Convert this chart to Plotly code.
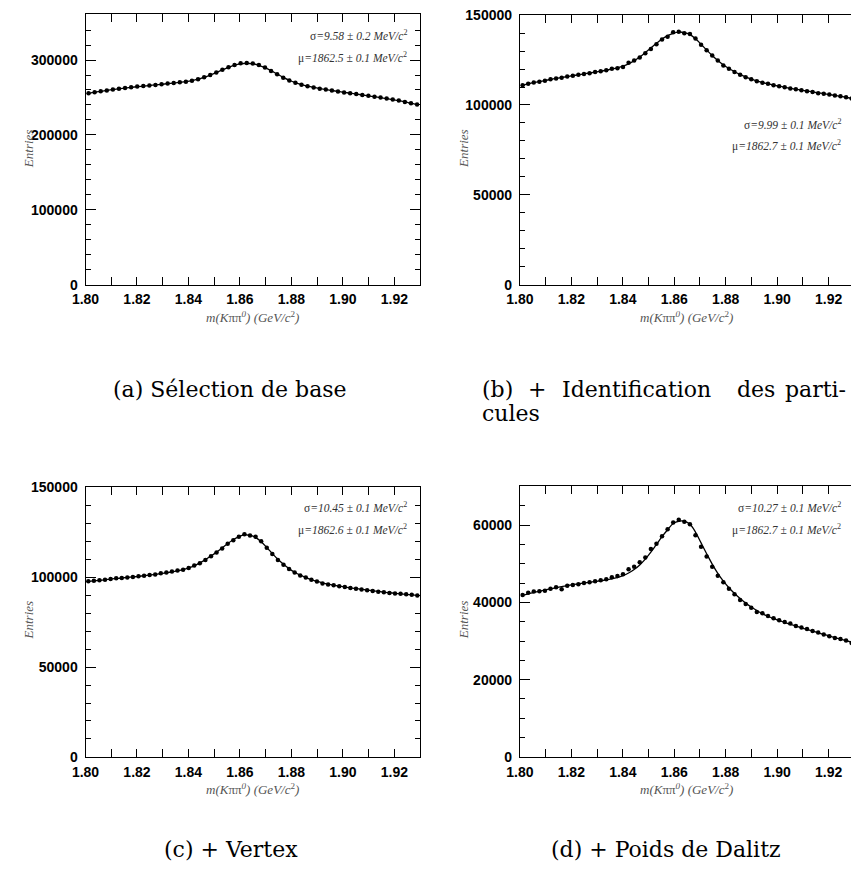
import numpy as np
import plotly.graph_objects as go

W, H = 851, 884

# ---------------- data (entries in thousands) ----------------
MASS_LO, MASS_HI = 1.80, 1.93
NBINS_A = 55
NBINS_BCD = 60

entries_a = [255.5, 257.0, 258.2, 259.3, 260.5, 261.8, 262.6, 263.5, 264.5, 265.3,
             266.0, 266.8, 267.6, 268.5, 269.3, 270.2, 271.0, 272.3, 274.5, 277.0,
             280.0, 283.5, 287.0, 290.5, 293.5, 295.8, 296.2, 295.5, 293.5, 290.0,
             285.5, 281.0, 276.5, 272.5, 269.5, 267.0, 265.0, 263.3, 261.8, 260.5,
             259.2, 258.0, 256.8, 255.6, 254.5, 253.3, 252.2, 251.0, 249.8, 248.5,
             247.2, 245.8, 244.0, 242.2, 240.5]
fit_a = [255.6, 257.0, 258.2, 259.4, 260.5, 261.6, 262.6, 263.5, 264.4, 265.2,
         266.0, 266.8, 267.6, 268.4, 269.3, 270.2, 271.2, 272.5, 274.4, 276.9,
         279.9, 283.3, 286.9, 290.2, 293.1, 295.0, 295.7, 295.0, 293.0, 289.8,
         285.8, 281.3, 276.9, 273.0, 269.8, 267.2, 265.1, 263.4, 261.9, 260.6,
         259.3, 258.1, 256.9, 255.7, 254.5, 253.4, 252.2, 251.0, 249.8, 248.5,
         247.2, 245.7, 244.1, 242.3, 240.5]

entries_b = [111.0, 111.8, 112.5, 113.0, 113.5, 114.3, 114.8, 115.2, 115.9, 116.3,
             116.8, 117.2, 117.6, 118.3, 118.8, 119.3, 120.2, 120.4, 121.2, 123.5,
             124.8, 126.5, 128.8, 131.2, 133.8, 136.5, 138.0, 140.5, 140.8, 140.0,
             139.5, 137.0, 133.5, 130.5, 127.5, 124.8, 122.0, 120.2, 118.3, 116.8,
             115.5, 114.3, 113.2, 112.4, 111.8, 111.0, 110.4, 109.9, 109.2, 108.7,
             108.2, 107.6, 107.2, 106.6, 106.2, 105.8, 105.3, 104.8, 104.3, 103.6]
fit_b = [110.9, 111.7, 112.4, 113.0, 113.6, 114.2, 114.8, 115.3, 115.8, 116.3,
         116.8, 117.3, 117.8, 118.3, 118.8, 119.4, 120.0, 120.7, 121.6, 122.9,
         124.6, 126.7, 129.1, 131.7, 134.3, 136.7, 138.6, 139.9, 140.6, 140.3,
         139.2, 136.9, 133.8, 130.6, 127.5, 124.7, 122.3, 120.3, 118.5, 117.0,
         115.6, 114.4, 113.4, 112.5, 111.8, 111.1, 110.5, 109.9, 109.3, 108.8,
         108.3, 107.8, 107.3, 106.8, 106.3, 105.8, 105.3, 104.8, 104.3, 103.7]

entries_c = [97.8, 98.0, 98.3, 98.6, 99.0, 99.4, 99.6, 99.9, 100.2, 100.6,
             100.9, 101.3, 101.6, 102.2, 102.6, 103.2, 103.8, 104.2, 105.2, 106.5,
             107.8, 109.6, 111.7, 113.8, 116.0, 118.6, 120.6, 122.5, 124.0, 123.3,
             122.5, 120.0, 116.5, 113.0, 109.6, 107.0, 104.6, 102.6, 101.0, 99.9,
             98.6, 97.6, 96.6, 96.0, 95.5, 95.0, 94.6, 94.0, 93.6, 93.2,
             92.8, 92.4, 92.0, 91.6, 91.3, 91.0, 90.8, 90.5, 90.2, 89.8]
fit_c = [97.7, 98.0, 98.3, 98.6, 99.0, 99.3, 99.6, 99.9, 100.2, 100.5,
         100.9, 101.2, 101.6, 102.0, 102.5, 103.0, 103.6, 104.3, 105.3, 106.4,
         108.0, 109.8, 111.8, 114.0, 116.4, 118.8, 120.9, 122.6, 123.6, 123.4,
         122.2, 119.8, 116.6, 113.2, 110.0, 107.2, 104.8, 102.8, 101.2, 99.9,
         98.7, 97.7, 96.9, 96.2, 95.6, 95.1, 94.6, 94.1, 93.7, 93.3,
         92.9, 92.5, 92.1, 91.7, 91.4, 91.1, 90.8, 90.5, 90.2, 89.9]

entries_d = [41.9, 42.5, 42.8, 42.9, 43.0, 43.5, 43.9, 43.4, 44.3, 44.5,
             44.7, 45.0, 45.2, 45.5, 45.7, 46.0, 46.5, 46.8, 47.3, 48.6,
             49.2, 50.4, 51.6, 53.8, 55.2, 57.1, 58.9, 60.7, 61.4, 60.9,
             60.2, 57.4, 54.4, 51.9, 49.2, 46.9, 45.2, 43.5, 42.1, 40.6,
             39.6, 38.6, 37.5, 37.2, 36.5, 35.9, 35.4, 34.9, 34.5, 33.9,
             33.5, 33.1, 32.6, 32.2, 31.7, 31.2, 30.8, 30.5, 30.1, 29.5]
fit_d = [41.8, 42.2, 42.6, 42.9, 43.2, 43.5, 43.8, 44.1, 44.3, 44.6,
         44.8, 45.0, 45.2, 45.4, 45.6, 45.8, 46.1, 46.4, 46.9, 47.6,
         48.5, 49.7, 51.2, 53.0, 55.0, 57.0, 58.8, 60.4, 61.0, 61.0,
         60.2, 58.2, 55.4, 52.6, 49.9, 47.5, 45.5, 43.8, 42.3, 41.0,
         39.8, 38.8, 37.9, 37.1, 36.4, 35.8, 35.3, 34.8, 34.3, 33.9,
         33.4, 33.0, 32.6, 32.1, 31.7, 31.3, 30.9, 30.5, 30.1, 29.7]

sigma_text = ["9.58 ± 0.2", "9.99 ± 0.1", "10.45 ± 0.1", "10.27 ± 0.1"]
mu_text = ["1862.5 ± 0.1", "1862.7 ± 0.1", "1862.6 ± 0.1", "1862.7 ± 0.1"]
y_max = [361000, 150000, 150000, 70000]
y_dtick = [100000, 50000, 50000, 20000]
y_minor = [20000, 10000, 10000, 5000]
x_ticks = [1.80, 1.82, 1.84, 1.86, 1.88, 1.90, 1.92]


def centers(n):
    w = (MASS_HI - MASS_LO) / n
    return MASS_LO + w * (np.arange(n) + 0.5)


def px_x(p):
    return p / W


def px_y(p):
    return 1 - p / H


panels = [
    dict(l=72.7, r=412.9, t=6.5, b=281.7, xhi=1.93, mirror_y=True),
    dict(l=514.3, r=851, t=7.3, b=281.7, xhi=1.80 + (851 - 514.3) / 2616.7, mirror_y=False),
    dict(l=72.7, r=412.9, t=488.3, b=762.7, xhi=1.93, mirror_y=True),
    dict(l=514.3, r=851, t=487.3, b=762.7, xhi=1.80 + (851 - 514.3) / 2616.7, mirror_y=False),
]

series = [(entries_a, fit_a, NBINS_A), (entries_b, fit_b, NBINS_BCD),
          (entries_c, fit_c, NBINS_BCD), (entries_d, fit_d, NBINS_BCD)]

fig = go.Figure()
layout = {}
annotations = []
tickfont = dict(family="Liberation Sans, Arial, sans-serif", size=14, color="black", weight="bold")
serif_it = "Liberation Serif, Times New Roman, serif"

for k, (p, (ent, fit, nb)) in enumerate(zip(panels, series)):
    i = k + 1
    xa = "x" if i == 1 else f"x{i}"
    ya = "y" if i == 1 else f"y{i}"
    xc = centers(nb)
    fig.add_trace(go.Scatter(x=xc, y=np.array(fit) * 1000, mode="lines",
                             line=dict(color="black", width=1.3, shape="spline"),
                             xaxis=xa, yaxis=ya, showlegend=False, hoverinfo="skip"))
    fig.add_trace(go.Scatter(x=xc, y=np.array(ent) * 1000, mode="markers",
                             marker=dict(color="black", size=4.5, symbol="circle"),
                             xaxis=xa, yaxis=ya, showlegend=False))
    xkey = "xaxis" if i == 1 else f"xaxis{i}"
    ykey = "yaxis" if i == 1 else f"yaxis{i}"
    layout[xkey] = dict(
        domain=[px_x(p["l"]), px_x(p["r"])], range=[1.80, p["xhi"]], anchor=ya,
        tickvals=x_ticks, tickformat=".2f", ticks="inside", ticklen=8, tickwidth=1,
        tickcolor="black", showline=True, linecolor="black", linewidth=1,
        mirror="allticks", showgrid=False, zeroline=False, tickfont=tickfont,
        ticklabelstandoff=2,
        minor=dict(dtick=0.01, tick0=1.80, ticks="inside", ticklen=8, tickcolor="black",
                   tickwidth=1, showgrid=False),
    )
    layout[ykey] = dict(
        domain=[px_y(p["b"]), px_y(p["t"])], range=[0, y_max[k]], anchor=xa,
        dtick=y_dtick[k], tick0=0, tickformat="d", ticks="inside", ticklen=10, tickwidth=1,
        tickcolor="black", showline=True, linecolor="black", linewidth=1,
        mirror="allticks" if p["mirror_y"] else False, showgrid=False, zeroline=False,
        tickfont=tickfont, ticklabelstandoff=4,
        minor=dict(dtick=y_minor[k], tick0=0, ticks="inside", ticklen=5, tickcolor="black",
                   tickwidth=1, showgrid=False),
    )

fit_text_pos = [(402, 28, 50), (843, 118, 140), (402, 508, 531), (843, 508, 531)]
for k, (xr, ys, ym) in enumerate(fit_text_pos):
    annotations.append(dict(
        x=px_x(xr), y=px_y(ys), xref="paper", yref="paper", xanchor="right", yanchor="middle",
        showarrow=False,
        text="σ<i>=" + sigma_text[k].replace("±", "</i>±<i>") + " MeV/c</i><sup>2</sup>",
        font=dict(family=serif_it, size=11.5, color="#333333")))
    annotations.append(dict(
        x=px_x(xr), y=px_y(ym), xref="paper", yref="paper", xanchor="right", yanchor="middle",
        showarrow=False,
        text="μ<i>=" + mu_text[k].replace("±", "</i>±<i>") + " MeV/c</i><sup>2</sup>",
        font=dict(family=serif_it, size=11.5, color="#333333")))

entries_pos = [(15, 143), (457, 143), (15, 623), (457, 623)]
for (xp, yp) in entries_pos:
    annotations.append(dict(
        x=px_x(xp), y=px_y(yp), xref="paper", yref="paper", xanchor="center", yanchor="middle",
        showarrow=False, textangle=-90, text="<i>Entries</i>",
        font=dict(family=serif_it, size=13, color="#555555")))

xtitle_pos = [(242, 315), (684, 315), (242, 795), (684, 795)]
for (xp, yp) in xtitle_pos:
    annotations.append(dict(
        x=px_x(xp), y=px_y(yp), xref="paper", yref="paper", xanchor="center", yanchor="middle",
        showarrow=False,
        text="<i>m(K</i>ππ<sup><i>0</i></sup><i>) (GeV/c</i><sup>2</sup><i>)</i>",
        font=dict(family=serif_it, size=13, color="#555555")))

cap_font = dict(family="DejaVu Serif, serif", size=22, color="black")
captions = [
    ("(a) Sélection de base", 220, 389, "center"),
    ("(c) + Vertex", 221, 857, "center"),
    ("(d) + Poids de Dalitz", 663, 857, "center"),
    ("(b)", 474, 389, "left"),
    ("+", 521, 389, "left"),
    ("Identification", 555, 389, "left"),
    ("des", 733, 389, "left"),
    ("parti-", 782, 389, "left"),
    ("cules", 474, 413, "left"),
]
for (t, xp, yp, anc) in captions:
    annotations.append(dict(
        x=px_x(xp), y=px_y(yp), xref="paper", yref="paper", xanchor=anc, yanchor="middle",
        showarrow=False, text=t, font=cap_font))

fig.update_layout(
    width=W, height=H, margin=dict(l=0, r=0, t=0, b=0),
    paper_bgcolor="white", plot_bgcolor="white",
    annotations=annotations, showlegend=False, **layout)

fig.write_html("out.html", config={"displayModeBar": False},
               post_script="document.body.style.margin='0px';document.body.style.overflow='hidden';")
